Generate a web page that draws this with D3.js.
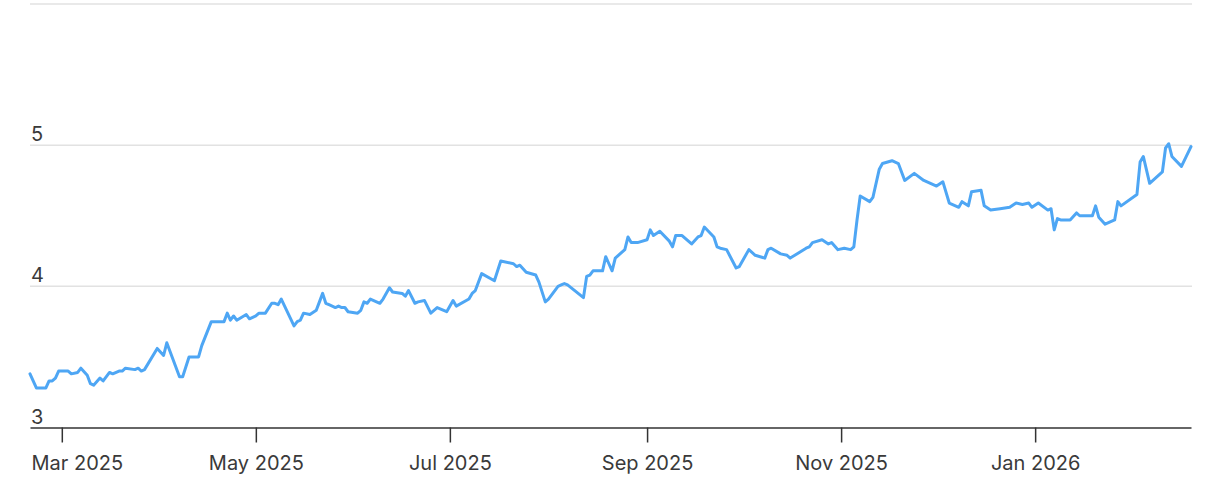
<!DOCTYPE html>
<html>
<head>
<meta charset="utf-8">
<script src="https://cdn.jsdelivr.net/npm/d3@7"></script>
<style>
  html, body { margin: 0; padding: 0; background: #ffffff; }
  svg { display: block; }
  text { font-family: Inter, "Helvetica Neue", Arial, sans-serif; }
</style>
</head>
<body>
<svg id="chart" width="1216" height="479"></svg>
<script>
// ---- data ----
const dates = [
  "2025-02-19","2025-02-21","2025-02-24","2025-02-25","2025-02-26","2025-02-27","2025-02-28",
  "2025-03-03","2025-03-04","2025-03-06","2025-03-07","2025-03-09","2025-03-10","2025-03-11",
  "2025-03-13","2025-03-14","2025-03-16","2025-03-17","2025-03-19","2025-03-20","2025-03-21",
  "2025-03-24","2025-03-25","2025-03-26","2025-03-27","2025-03-31","2025-04-02","2025-04-03",
  "2025-04-07","2025-04-08","2025-04-10","2025-04-13","2025-04-14","2025-04-17","2025-04-21",
  "2025-04-22","2025-04-23","2025-04-24","2025-04-25","2025-04-28","2025-04-29","2025-05-01",
  "2025-05-02","2025-05-04","2025-05-06","2025-05-07","2025-05-08","2025-05-09","2025-05-13",
  "2025-05-14","2025-05-15","2025-05-16","2025-05-18","2025-05-20","2025-05-21","2025-05-22",
  "2025-05-23","2025-05-24","2025-05-26","2025-05-27","2025-05-28","2025-05-29","2025-05-30",
  "2025-06-02","2025-06-03","2025-06-04","2025-06-05","2025-06-06","2025-06-09","2025-06-10",
  "2025-06-12","2025-06-13","2025-06-16","2025-06-17","2025-06-18","2025-06-20","2025-06-21",
  "2025-06-23","2025-06-25","2025-06-27","2025-06-30","2025-07-02","2025-07-03","2025-07-07",
  "2025-07-08","2025-07-09","2025-07-11","2025-07-15","2025-07-17","2025-07-21","2025-07-22",
  "2025-07-23","2025-07-25","2025-07-28","2025-07-29","2025-07-31","2025-08-01","2025-08-04",
  "2025-08-05","2025-08-06","2025-08-07","2025-08-12","2025-08-13","2025-08-14","2025-08-15",
  "2025-08-18","2025-08-19","2025-08-20","2025-08-21","2025-08-22","2025-08-25","2025-08-26",
  "2025-08-27","2025-08-29","2025-09-01","2025-09-02","2025-09-03","2025-09-05","2025-09-08",
  "2025-09-09","2025-09-10","2025-09-12","2025-09-15","2025-09-17","2025-09-18","2025-09-19",
  "2025-09-22","2025-09-23","2025-09-24","2025-09-26","2025-09-29","2025-09-30","2025-10-03",
  "2025-10-05","2025-10-08","2025-10-09","2025-10-10","2025-10-13","2025-10-15","2025-10-16",
  "2025-10-21","2025-10-22","2025-10-23","2025-10-26","2025-10-28","2025-10-29","2025-10-31",
  "2025-11-02","2025-11-04","2025-11-05","2025-11-06","2025-11-07","2025-11-10","2025-11-11",
  "2025-11-13","2025-11-14","2025-11-17","2025-11-19","2025-11-21","2025-11-24","2025-11-27",
  "2025-12-01","2025-12-03","2025-12-05","2025-12-08","2025-12-09","2025-12-11","2025-12-12",
  "2025-12-15","2025-12-16","2025-12-18","2025-12-21","2025-12-24","2025-12-26","2025-12-28",
  "2025-12-30","2025-12-31","2026-01-02","2026-01-05","2026-01-06","2026-01-07","2026-01-08",
  "2026-01-09","2026-01-12","2026-01-14","2026-01-15","2026-01-19","2026-01-20","2026-01-21",
  "2026-01-23","2026-01-26","2026-01-27","2026-01-28","2026-02-02","2026-02-03","2026-02-04",
  "2026-02-06","2026-02-10","2026-02-11","2026-02-12","2026-02-13","2026-02-16","2026-02-19"
];
const values = [
  3.38,3.28,3.28,3.33,3.33,3.35,3.40,
  3.40,3.38,3.39,3.42,3.37,3.31,3.30,
  3.35,3.33,3.39,3.38,3.40,3.40,3.42,
  3.41,3.42,3.40,3.41,3.56,3.51,3.60,
  3.36,3.36,3.50,3.50,3.58,3.75,3.75,
  3.81,3.76,3.79,3.76,3.80,3.77,3.79,
  3.81,3.81,3.88,3.88,3.87,3.91,3.72,
  3.75,3.76,3.81,3.80,3.83,3.89,3.95,
  3.88,3.87,3.85,3.86,3.85,3.85,3.82,
  3.81,3.83,3.89,3.88,3.91,3.88,3.91,
  3.99,3.96,3.95,3.93,3.97,3.88,3.89,
  3.90,3.81,3.85,3.82,3.90,3.86,3.91,
  3.95,3.97,4.09,4.04,4.18,4.16,4.14,
  4.15,4.10,4.08,4.03,3.89,3.91,4.00,
  4.01,4.02,4.01,3.92,4.07,4.08,4.11,
  4.11,4.21,4.16,4.11,4.20,4.26,4.35,
  4.31,4.31,4.33,4.40,4.36,4.39,4.32,
  4.28,4.36,4.36,4.30,4.35,4.36,4.42,
  4.35,4.28,4.27,4.26,4.13,4.14,4.26,
  4.22,4.20,4.26,4.27,4.23,4.22,4.20,
  4.27,4.28,4.31,4.33,4.30,4.31,4.26,
  4.27,4.26,4.28,4.47,4.64,4.60,4.63,
  4.83,4.87,4.89,4.87,4.75,4.80,4.75,
  4.71,4.74,4.59,4.56,4.60,4.57,4.67,
  4.68,4.57,4.54,4.55,4.56,4.59,4.58,
  4.59,4.56,4.59,4.54,4.55,4.40,4.48,
  4.47,4.47,4.52,4.50,4.50,4.57,4.49,
  4.44,4.47,4.60,4.57,4.65,4.88,4.92,
  4.73,4.81,4.98,5.01,4.92,4.85,4.99
];
const yTickValues = [3, 4, 5, 6];
const yTickLabels = ["3", "4", "5", "6"];
const xTickDates = ["2025-03-01","2025-05-01","2025-07-01","2025-09-01","2025-11-01","2026-01-01"];

// ---- build ----
(function () {
  const parse = d3.timeParse("%Y-%m-%d");
  const data = dates.map((d, i) => ({ date: parse(d), value: values[i] }));

  const svg = d3.select("#chart");
  const plotLeft = 30, plotRight = 1191, plotTop = 4, plotBottom = 427.5;

  const x = d3.scaleTime()
    .domain(d3.extent(data, d => d.date))
    .range([plotLeft, plotRight]);
  const y = d3.scaleLinear()
    .domain([3, 6])
    .range([plotBottom, plotTop]);

  // gridlines
  svg.append("g").selectAll("line")
    .data(yTickValues.filter(v => v > 3))
    .join("line")
    .attr("x1", plotLeft).attr("x2", plotRight + 1)
    .attr("y1", d => y(d)).attr("y2", d => y(d))
    .attr("stroke", "#e2e2e2")
    .attr("stroke-width", 1.5);

  // y labels (only those that fit in view)
  svg.append("g").selectAll("text")
    .data(yTickValues.map((v, i) => ({ v, label: yTickLabels[i] })).filter(d => y(d.v) - 22 > 0))
    .join("text")
    .attr("x", 31)
    .attr("y", d => y(d.v) - 4)
    .attr("font-size", 20)
    .attr("fill", "#3a3a3a")
    .text(d => d.label);

  // x axis
  const xAxis = d3.axisBottom(x)
    .tickValues(xTickDates.map(parse))
    .tickFormat(d3.timeFormat("%b %Y"))
    .tickSize(15)
    .tickSizeOuter(0)
    .tickPadding(13);

  const gx = svg.append("g")
    .attr("transform", `translate(0,${plotBottom})`)
    .call(xAxis);
  gx.select(".domain").attr("stroke", "#333").attr("stroke-width", 1.5);
  gx.selectAll(".tick line").attr("stroke", "#333").attr("stroke-width", 1.5);
  gx.selectAll(".tick text")
    .attr("font-size", 20)
    .attr("font-family", "Inter, 'Helvetica Neue', Arial, sans-serif")
    .attr("fill", "#3a3a3a");

  // keep labels inside the plot horizontally
  gx.selectAll(".tick").each(function (d) {
    const t = d3.select(this).select("text");
    const w = t.node().getComputedTextLength();
    const cx = x(d);
    if (cx - w / 2 < 31) {
      t.attr("text-anchor", "start").attr("x", 31 - cx);
    } else if (cx + w / 2 > 1210) {
      t.attr("text-anchor", "end").attr("x", 1210 - cx);
    }
  });

  // line
  const line = d3.line()
    .x(d => x(d.date))
    .y(d => y(d.value))
    .curve(d3.curveLinear);

  svg.append("path")
    .datum(data)
    .attr("fill", "none")
    .attr("stroke", "#4ea6f4")
    .attr("stroke-width", 3)
    .attr("stroke-linejoin", "round")
    .attr("stroke-linecap", "round")
    .attr("d", line);
})();
</script>
</body>
</html>
